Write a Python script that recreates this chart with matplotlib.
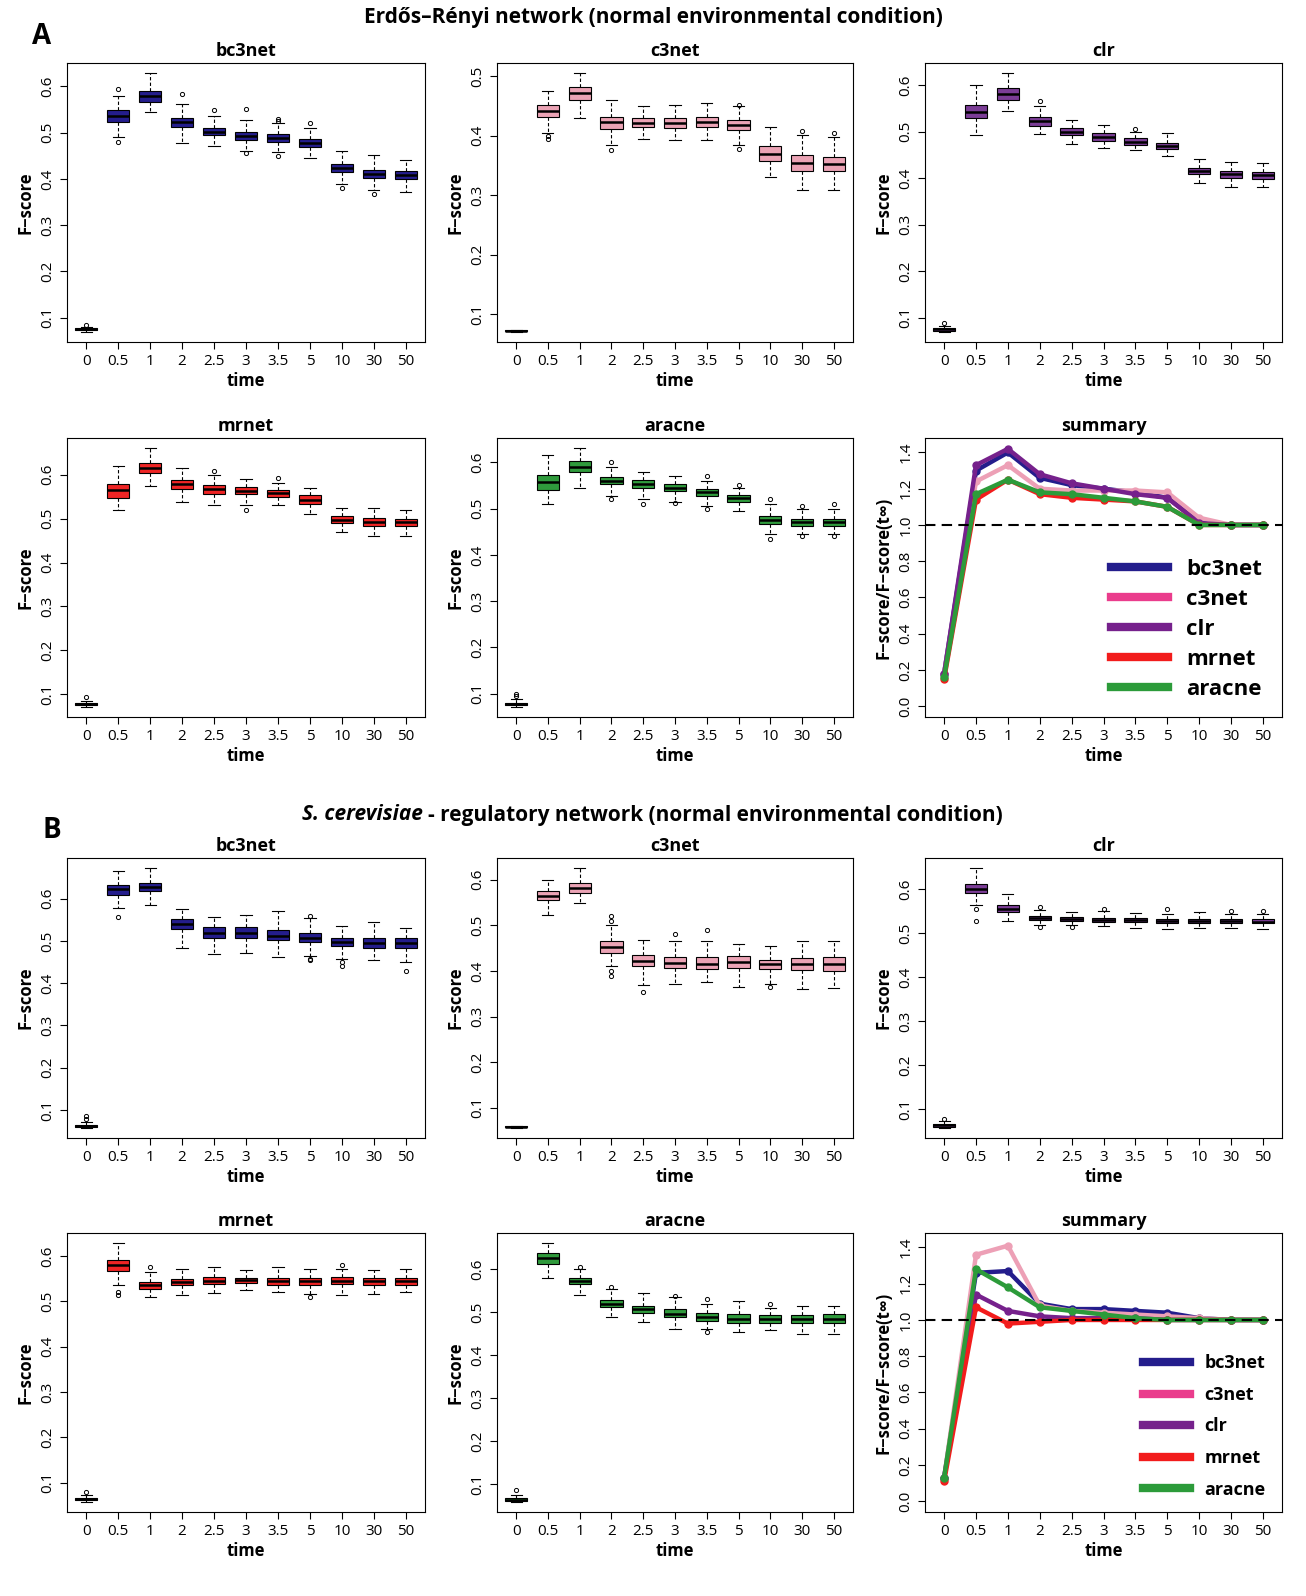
import matplotlib
matplotlib.use("Agg")
import matplotlib.pyplot as plt
from matplotlib.lines import Line2D

plt.rcParams['font.family'] = ['Open Sans', 'DejaVu Sans']

times = ["0", "0.5", "1", "2", "2.5", "3", "3.5", "5", "10", "30", "50"]

# rows: median, q1, q3, whisker low, whisker high
A_bc3net = [[0.075,0.535,0.578,0.522,0.502,0.493,0.488,0.477,0.424,0.410,0.408],
            [0.073,0.522,0.567,0.512,0.494,0.485,0.479,0.468,0.415,0.402,0.399],
            [0.077,0.548,0.590,0.532,0.510,0.502,0.497,0.487,0.433,0.420,0.418],
            [0.070,0.490,0.545,0.478,0.470,0.460,0.458,0.445,0.390,0.375,0.372],
            [0.080,0.580,0.628,0.562,0.535,0.527,0.520,0.510,0.460,0.452,0.440]]
A_bc3net_out = [[0.085],[0.48,0.595],[],[0.583],[0.548],[0.55,0.455],[0.525,0.53,0.45],[0.52],[0.38],[0.368],[]]

A_c3net = [[0.072,0.442,0.472,0.423,0.422,0.421,0.423,0.418,0.370,0.354,0.353],
           [0.071,0.432,0.460,0.412,0.415,0.413,0.415,0.410,0.358,0.340,0.340],
           [0.073,0.452,0.482,0.432,0.430,0.430,0.432,0.426,0.382,0.367,0.365],
           [0.0705,0.405,0.430,0.385,0.395,0.393,0.393,0.385,0.330,0.308,0.308],
           [0.0735,0.475,0.505,0.460,0.450,0.452,0.455,0.450,0.415,0.402,0.398]]
A_c3net_out = [[],[0.40,0.395],[],[0.376],[],[],[],[0.452,0.378],[],[0.408],[0.405]]

A_clr = [[0.075,0.543,0.580,0.522,0.500,0.488,0.478,0.468,0.415,0.408,0.406],
         [0.072,0.528,0.568,0.512,0.492,0.480,0.472,0.462,0.409,0.400,0.398],
         [0.078,0.558,0.593,0.532,0.508,0.496,0.485,0.476,0.421,0.415,0.414],
         [0.070,0.492,0.545,0.495,0.473,0.465,0.460,0.448,0.390,0.380,0.380],
         [0.082,0.600,0.625,0.555,0.525,0.515,0.500,0.497,0.440,0.435,0.432]]
A_clr_out = [[0.088],[],[],[0.565],[],[],[0.505],[],[],[],[]]

A_mrnet = [[0.078,0.565,0.615,0.578,0.567,0.563,0.558,0.543,0.497,0.493,0.492],
           [0.075,0.548,0.603,0.568,0.557,0.555,0.550,0.534,0.489,0.484,0.484],
           [0.080,0.578,0.627,0.588,0.577,0.572,0.566,0.553,0.505,0.502,0.500],
           [0.072,0.520,0.575,0.537,0.530,0.530,0.530,0.510,0.470,0.460,0.460],
           [0.085,0.620,0.660,0.615,0.600,0.590,0.580,0.570,0.525,0.525,0.520]]
A_mrnet_out = [[0.095],[],[],[],[0.608],[0.52],[0.592],[],[],[],[]]

A_aracne = [[0.078,0.557,0.590,0.560,0.553,0.545,0.535,0.522,0.475,0.470,0.470],
            [0.075,0.540,0.578,0.552,0.545,0.538,0.527,0.515,0.467,0.462,0.462],
            [0.081,0.573,0.602,0.568,0.561,0.553,0.543,0.530,0.483,0.478,0.478],
            [0.072,0.510,0.545,0.528,0.520,0.515,0.505,0.495,0.445,0.445,0.445],
            [0.088,0.615,0.630,0.590,0.578,0.570,0.560,0.545,0.510,0.500,0.500]]
A_aracne_out = [[0.095,0.10],[],[],[0.60,0.52],[0.51],[0.512],[0.57,0.50],[0.55],[0.52,0.435],[0.505,0.44],[0.51,0.44]]

A_sum = {"bc3net": [0.18,1.30,1.40,1.26,1.22,1.20,1.18,1.15,1.02,1.00,1.00],
         "c3net":  [0.18,1.24,1.33,1.20,1.19,1.19,1.19,1.18,1.04,1.00,1.00],
         "clr":    [0.18,1.33,1.42,1.28,1.23,1.20,1.17,1.15,1.01,1.00,1.00],
         "mrnet":  [0.15,1.14,1.25,1.17,1.15,1.14,1.13,1.10,1.00,1.00,1.00],
         "aracne": [0.16,1.17,1.25,1.18,1.17,1.15,1.13,1.10,1.00,1.00,1.00]}

B_bc3net = [[0.062,0.622,0.628,0.540,0.520,0.520,0.513,0.508,0.497,0.495,0.495],
            [0.060,0.610,0.618,0.528,0.508,0.508,0.502,0.498,0.488,0.484,0.483],
            [0.065,0.633,0.637,0.553,0.532,0.533,0.525,0.520,0.507,0.507,0.507],
            [0.058,0.578,0.585,0.483,0.470,0.472,0.462,0.465,0.458,0.455,0.450],
            [0.072,0.665,0.672,0.575,0.558,0.562,0.570,0.555,0.535,0.545,0.530]]
B_bc3net_out = [[0.085,0.078],[0.558],[],[],[],[],[],[0.56,0.458,0.455],[0.45,0.44],[],[0.43]]

B_c3net = [[0.058,0.565,0.583,0.453,0.422,0.418,0.416,0.420,0.415,0.415,0.415],
           [0.057,0.555,0.572,0.440,0.410,0.407,0.405,0.407,0.405,0.403,0.400],
           [0.059,0.575,0.593,0.465,0.435,0.430,0.430,0.432,0.425,0.428,0.430],
           [0.0565,0.522,0.548,0.410,0.370,0.372,0.375,0.365,0.372,0.360,0.362],
           [0.0595,0.600,0.625,0.500,0.468,0.465,0.465,0.460,0.455,0.465,0.465]]
B_c3net_out = [[],[],[],[0.52,0.51,0.40,0.39],[0.355],[0.48],[0.49],[],[0.365],[],[]]

B_clr = [[0.063,0.602,0.555,0.535,0.533,0.531,0.530,0.528,0.528,0.528,0.527],
         [0.060,0.592,0.548,0.531,0.529,0.527,0.526,0.524,0.524,0.524,0.523],
         [0.066,0.613,0.565,0.540,0.537,0.536,0.535,0.533,0.533,0.533,0.532],
         [0.058,0.565,0.528,0.520,0.520,0.517,0.513,0.510,0.512,0.512,0.510],
         [0.072,0.648,0.590,0.553,0.548,0.550,0.547,0.545,0.548,0.545,0.545]]
B_clr_out = [[0.078],[0.555,0.528],[],[0.56,0.515],[0.515],[0.555],[],[0.555],[],[0.552],[0.55]]

B_mrnet = [[0.063,0.580,0.535,0.542,0.545,0.546,0.545,0.545,0.545,0.545,0.545],
           [0.061,0.568,0.527,0.535,0.538,0.540,0.537,0.537,0.538,0.537,0.537],
           [0.066,0.592,0.543,0.550,0.553,0.552,0.552,0.552,0.553,0.552,0.552],
           [0.058,0.535,0.510,0.515,0.518,0.525,0.520,0.517,0.515,0.517,0.520],
           [0.072,0.628,0.565,0.572,0.575,0.570,0.575,0.572,0.572,0.570,0.572]]
B_mrnet_out = [[0.08],[0.52,0.515],[0.575],[],[],[],[],[0.51],[0.58],[],[]]

B_aracne = [[0.065,0.625,0.572,0.520,0.507,0.497,0.490,0.485,0.485,0.484,0.485],
            [0.062,0.613,0.565,0.513,0.498,0.488,0.480,0.475,0.476,0.475,0.476],
            [0.068,0.637,0.580,0.528,0.515,0.507,0.498,0.495,0.494,0.493,0.495],
            [0.060,0.580,0.540,0.490,0.478,0.462,0.460,0.455,0.458,0.450,0.450],
            [0.075,0.660,0.600,0.553,0.545,0.535,0.520,0.525,0.510,0.515,0.515]]
B_aracne_out = [[0.088],[],[0.605],[0.558],[],[0.537],[0.53,0.455],[],[0.52],[],[]]

B_sum = {"bc3net": [0.13,1.26,1.27,1.09,1.06,1.06,1.05,1.04,1.01,1.00,1.00],
         "c3net":  [0.13,1.36,1.41,1.08,1.05,1.04,1.03,1.02,1.01,1.00,1.00],
         "clr":    [0.13,1.14,1.05,1.02,1.01,1.01,1.01,1.00,1.00,1.00,1.00],
         "mrnet":  [0.11,1.07,0.98,0.99,1.00,1.00,1.00,1.00,1.00,1.00,1.00],
         "aracne": [0.13,1.28,1.18,1.07,1.05,1.03,1.01,1.00,1.00,1.00,1.00]}

box_col = {"bc3net": "#241d8c", "c3net": "#eba3b5", "clr": "#7b3d96",
           "mrnet": "#ee2424", "aracne": "#2f9a3c"}
line_col = {"bc3net": "#241d8c", "c3net": "#eda0b6", "clr": "#76218c",
            "mrnet": "#f21c1c", "aracne": "#2c9b3a"}
leg_col = {"bc3net": "#241d8c", "c3net": "#ea3c8c", "clr": "#76218c",
           "mrnet": "#f21c1c", "aracne": "#2c9b3a"}

W, H = 1306, 1596
fig = plt.figure(figsize=(W/100, H/100), dpi=100)

cols_px = [(67, 425), (497, 853), (925, 1282)]
rows_px = [(63, 342), (438, 717), (858, 1138), (1233, 1512)]

def mkax(r, c):
    x0, x1 = cols_px[c]; y0, y1 = rows_px[r]
    return fig.add_axes([x0/W, 1-y1/H, (x1-x0)/W, (y1-y0)/H])

def style(ax, title, ylabel):
    ax.set_title(title, fontsize=13, fontweight='bold', pad=5)
    ax.set_xlabel("time", fontsize=12, fontweight='bold', labelpad=2)
    ax.set_ylabel(ylabel, fontsize=12, fontweight='bold', labelpad=4)
    ax.set_xticks(range(1, 12))
    ax.set_xticklabels(times, fontsize=11)
    ax.set_xlim(0.4, 11.6)
    for lab in ax.get_yticklabels():
        lab.set_rotation(90); lab.set_va('center'); lab.set_fontsize(11)
    ax.tick_params(length=5)

def boxpanel(r, c, name, d, outs):
    ax = mkax(r, c)
    stats = []
    for i in range(11):
        stats.append(dict(med=d[0][i], q1=d[1][i], q3=d[2][i],
                          whislo=d[3][i], whishi=d[4][i], fliers=outs[i]))
    ax.bxp(stats, positions=range(1, 12), widths=0.7, patch_artist=True,
           boxprops=dict(facecolor=box_col[name], edgecolor='black', lw=0.8),
           medianprops=dict(color='black', lw=1.8),
           whiskerprops=dict(ls='--', lw=0.8, dashes=(3, 2)),
           capprops=dict(lw=0.8),
           flierprops=dict(marker='o', ms=3, mfc='none', mec='black', mew=0.7))
    lo = min(min(d[3]), min(min(o) for o in outs if o))
    hi = max(max(d[4]), max(max(o) for o in outs if o))
    pad = (hi - lo) * 0.04
    ax.set_yticks([0.1, 0.2, 0.3, 0.4, 0.5, 0.6])
    ax.set_yticklabels(["0.1", "0.2", "0.3", "0.4", "0.5", "0.6"])
    ax.set_ylim(lo - pad, hi + pad)
    style(ax, name, "F−score")

def sumpanel(r, c, data, big):
    ax = mkax(r, c)
    for k, v in data.items():
        ax.plot(range(1, 12), v, color=line_col[k], lw=3.2, marker='o', ms=5)
    ax.axhline(1.0, color='black', ls='--', lw=1.5, dashes=(5, 3))
    ax.set_ylim(-0.06, 1.48)
    ax.set_yticks([0, 0.2, 0.4, 0.6, 0.8, 1.0, 1.2, 1.4])
    ax.set_yticklabels(["0.0", "0.2", "0.4", "0.6", "0.8", "1.0", "1.2", "1.4"])
    style(ax, "summary", "F−score/F−score(t∞)")
    handles = [Line2D([0], [0], color=leg_col[k], lw=6) for k in data]
    ax.legend(handles, list(data.keys()), loc='lower right', frameon=False,
              prop=dict(weight='bold', size=16 if big else 13),
              handlelength=2.6, labelspacing=0.4 if big else 0.75,
              bbox_to_anchor=(1.0, -0.01))

boxpanel(0, 0, "bc3net", A_bc3net, A_bc3net_out)
boxpanel(0, 1, "c3net", A_c3net, A_c3net_out)
boxpanel(0, 2, "clr", A_clr, A_clr_out)
boxpanel(1, 0, "mrnet", A_mrnet, A_mrnet_out)
boxpanel(1, 1, "aracne", A_aracne, A_aracne_out)
sumpanel(1, 2, A_sum, True)
boxpanel(2, 0, "bc3net", B_bc3net, B_bc3net_out)
boxpanel(2, 1, "c3net", B_c3net, B_c3net_out)
boxpanel(2, 2, "clr", B_clr, B_clr_out)
boxpanel(3, 0, "mrnet", B_mrnet, B_mrnet_out)
boxpanel(3, 1, "aracne", B_aracne, B_aracne_out)
sumpanel(3, 2, B_sum, False)

fig.text(653/W, 1-18/H, "Erdős–Rényi network (normal environmental condition)",
         ha='center', va='center', fontsize=15, fontweight='bold')
t1 = fig.text(302/W, 1-815/H, "S. cerevisiae", ha='left', va='center',
              fontsize=15, fontweight='bold', style='italic')
fig.canvas.draw()
bb = t1.get_window_extent()
fig.text(bb.x1/W + 5/W, 1-815/H, "- regulatory network (normal environmental condition)",
         ha='left', va='center', fontsize=15, fontweight='bold')
fig.text(42/W, 1-37/H, "A", ha='center', va='center', fontsize=20, fontweight='bold')
fig.text(52/W, 1-830/H, "B", ha='center', va='center', fontsize=20, fontweight='bold')

fig.savefig("out.png", dpi=100)
